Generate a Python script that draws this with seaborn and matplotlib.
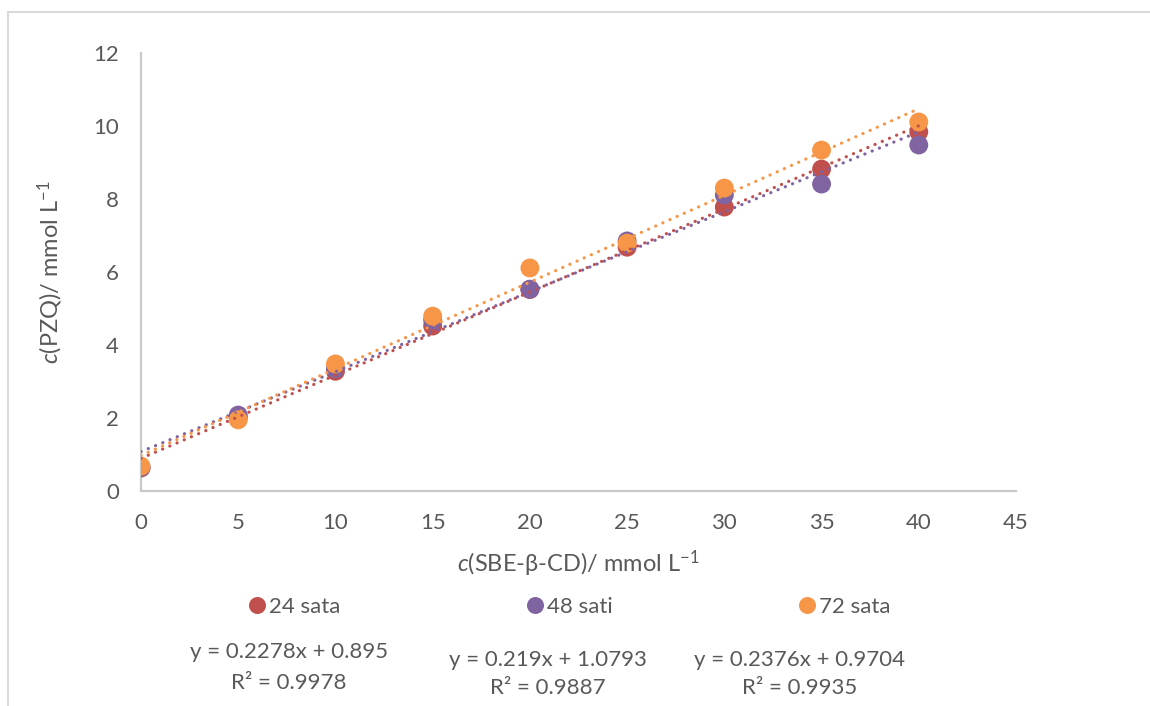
import numpy as np
import pandas as pd
import matplotlib
matplotlib.use("Agg")
import matplotlib.pyplot as plt
import seaborn as sns

# Solubility of PZQ versus SBE-beta-CD concentration after 24, 48 and 72 h
koncentracija = [0, 5, 10, 15, 20, 25, 30, 35, 40]
sata_24 = [0.63, 2.00, 3.28, 4.52, 5.52, 6.68, 7.78, 8.82, 9.84]
sati_48 = [0.65, 2.08, 3.35, 4.68, 5.53, 6.85, 8.11, 8.41, 9.48]
sata_72 = [0.68, 1.95, 3.48, 4.79, 6.11, 6.79, 8.30, 9.34, 10.11]

serije = ["24 sata", "48 sati", "72 sata"]
nagibi = [0.2278, 0.219, 0.2376]
odsjecci = [0.895, 1.0793, 0.9704]
r_kvadrat = [0.9978, 0.9887, 0.9935]
jednadzbe = ["y = 0.2278x + 0.895", "y = 0.219x + 1.0793", "y = 0.2376x + 0.9704"]

x_oznake = [0, 5, 10, 15, 20, 25, 30, 35, 40, 45]
y_oznake = [0, 2, 4, 6, 8, 10, 12]

boje = ["#C0504D", "#8064A2", "#F79646"]
siva_tekst = "#595959"
siva_os = "#C9C9C9"

sns.set_theme(style="white")
plt.rcParams["font.family"] = ["Lato", "DejaVu Sans"]
plt.rcParams["mathtext.fontset"] = "custom"
plt.rcParams["mathtext.rm"] = "Lato"
plt.rcParams["mathtext.it"] = "Lato:italic"

df = pd.DataFrame({
    "x": koncentracija * 3,
    "y": sata_24 + sati_48 + sata_72,
    "serija": [s for s in serije for _ in koncentracija],
})

W, H = 1150, 706
fig = plt.figure(figsize=(W / 100, H / 100), dpi=100)
ax = fig.add_axes([141 / W, 1 - 491 / H, (1016 - 141) / W, (491 - 53) / H])

sns.scatterplot(data=df, x="x", y="y", hue="serija", hue_order=serije,
                palette=boje, s=185, linewidth=0, alpha=1.0, ax=ax,
                zorder=3, legend=True)

# Linear trendlines from the fitted coefficients
x_lin = np.array([min(koncentracija), max(koncentracija)], dtype=float)
for k, n, c in zip(nagibi, odsjecci, boje):
    ax.plot(x_lin, k * x_lin + n, color=c, lw=2.3,
            linestyle=(0, (0.05, 2.4)), dash_capstyle="round", zorder=4)

ax.set_xlim(0, 45)
ax.set_ylim(0, 12)
ax.set_xticks(x_oznake)
ax.set_yticks(y_oznake)
ax.tick_params(axis="x", length=0, labelsize=16, labelcolor=siva_tekst, pad=16)
ax.tick_params(axis="y", length=0, labelsize=16, labelcolor=siva_tekst, pad=16)
for side in ["top", "right"]:
    ax.spines[side].set_visible(False)
for side in ["left", "bottom"]:
    ax.spines[side].set_color(siva_os)
    ax.spines[side].set_linewidth(1.6)

ax.set_xlabel(r"$\it{c}$(SBE-β-CD)/ mmol L$^{-1}$", fontsize=17, color=siva_tekst, labelpad=11)
ax.set_ylabel(r"$\it{c}$(PZQ)/ mmol L$^{-1}$", fontsize=17, color=siva_tekst, labelpad=20)

handles, labels = ax.get_legend_handles_labels()
ax.get_legend().remove()

# One legend entry per series, spread across the width
lijevo = [246, 524, 796]
for h, lab, lx in zip(handles, labels, lijevo):
    fig.legend([h], [lab], loc="center left",
               bbox_to_anchor=(lx / W, 1 - 607 / H), frameon=False,
               fontsize=16, labelcolor=siva_tekst, borderaxespad=0,
               borderpad=0, handletextpad=0.05, handlelength=1.0,
               markerscale=0.9)

# Regression equations below the legend
pozicije = [(289, 652, 683), (548, 660, 688), (800, 660, 688)]
for (px, py1, py2), jed, r2 in zip(pozicije, jednadzbe, r_kvadrat):
    fig.text(px / W, 1 - py1 / H, jed, ha="center", va="center",
             fontsize=16, color=siva_tekst)
    fig.text(px / W, 1 - py2 / H, f"R² = {r2:.4f}", ha="center", va="center",
             fontsize=16, color=siva_tekst)

# Chart area frame
fig.add_artist(plt.Line2D([8 / W, 1], [1 - 12 / H, 1 - 12 / H], color="#D9D9D9", lw=1.5))
fig.add_artist(plt.Line2D([8 / W, 8 / W], [1 - 12 / H, 0], color="#D9D9D9", lw=1.5))

fig.savefig("out.png", dpi=100, facecolor="white")
